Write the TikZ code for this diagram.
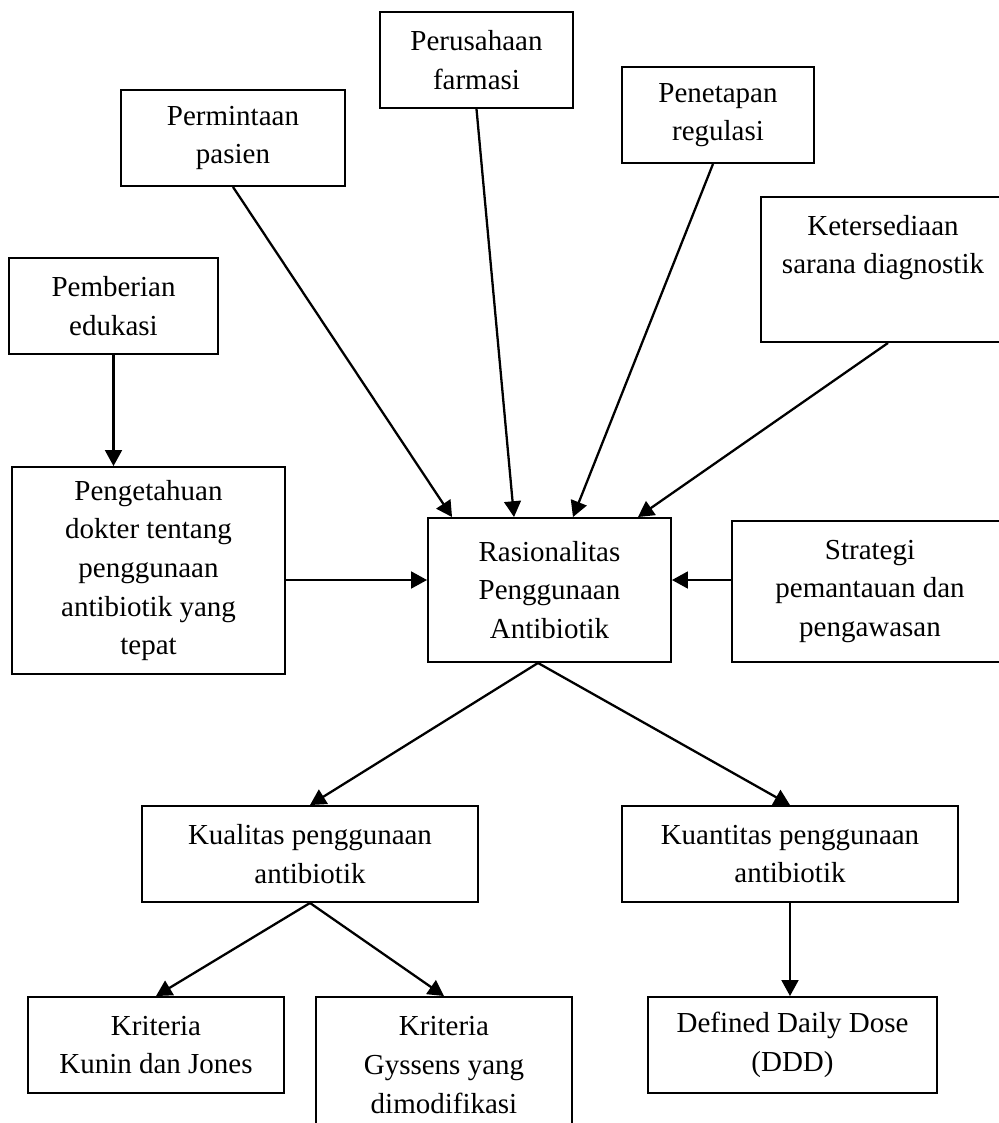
\documentclass[tikz,border=0pt]{standalone}
\usepackage{fontspec}
\setmainfont{Liberation Serif}
\usepackage{tikz}
\usetikzlibrary{arrows.meta,positioning}

\begin{document}
\begin{tikzpicture}[x=0.02cm, y=-0.02cm, ->, >={Triangle[length=9pt,width=9.5pt]}, line width=1.3pt]

    \tikzstyle{box}=[draw=black, rectangle, align=center, inner sep=2pt, minimum height=1.92cm, line width=1.1pt, font=\fontsize{16.5}{22}\selectfont]

    \useasboundingbox (0,0) rectangle (999,1123);
    \clip (0,0) rectangle (999,1123);

    \node[box, minimum width=3.86cm]                      (farmasi)     at (476.5,60)   {Perusahaan\\farmasi};
    \node[box, minimum width=4.48cm]                      (pasien)      at (233,138)    {Permintaan\\pasien};
    \node[box, minimum width=3.84cm]                      (regulasi)    at (718,115)    {Penetapan\\regulasi};
    \node[box, minimum width=4.88cm, minimum height=2.9cm] (diagnostik)  at (883,269.5)  {Ketersediaan\\sarana diagnostik\\\strut};
    \node[box, minimum width=4.18cm]                      (edukasi)     at (113.5,306)  {Pemberian\\edukasi};
    \node[box, minimum width=5.46cm, minimum height=4.14cm] (pengetahuan) at (148.5,570.5) {Pengetahuan\\dokter tentang\\penggunaan\\antibiotik yang\\tepat};
    \node[box, minimum width=4.86cm, minimum height=2.88cm] (rasional)    at (549.5,590)  {Rasionalitas\\Penggunaan\\Antibiotik};
    \node[box, minimum width=5.52cm, minimum height=2.82cm] (strategi)    at (870,591.5)  {Strategi\\pemantauan dan\\pengawasan};
    \node[box, minimum width=6.72cm]                      (kualitas)    at (310,854)    {Kualitas penggunaan\\antibiotik};
    \node[box, minimum width=6.72cm]                      (kuantitas)   at (790,854)    {Kuantitas penggunaan\\antibiotik};
    \node[box, minimum width=5.12cm]                      (kunin)       at (156,1045)   {Kriteria\\Kunin dan Jones};
    \node[box, minimum width=5.12cm, minimum height=2.72cm] (gyssens)     at (444,1065)   {Kriteria\\Gyssens yang\\dimodifikasi};
    \node[box, minimum width=5.78cm]                      (ddd)         at (792.5,1045) {Defined Daily Dose\\(DDD)};

    \path (pasien.south) edge ([xshift=0.5cm]rasional.north west)
          (farmasi.south) edge ([xshift=-0.71cm]rasional.north)
          ([xshift=-0.1cm]regulasi.south) edge ([xshift=0.47cm]rasional.north)
          ([xshift=0.1cm]diagnostik.south) edge ([xshift=-0.68cm]rasional.north east)
          (edukasi.south) edge (edukasi.south |- pengetahuan.north)
          ([yshift=-0.19cm]pengetahuan.east) edge ([yshift=-0.19cm]pengetahuan.east -| rasional.west)
          ([yshift=0.23cm]strategi.west) edge ([yshift=0.23cm]strategi.west -| rasional.east)
          ([xshift=-0.23cm]rasional.south) edge (kualitas.north)
          ([xshift=-0.23cm]rasional.south) edge (kuantitas.north)
          (kualitas.south) edge (kunin.north)
          (kualitas.south) edge (gyssens.north)
          (kuantitas.south) edge (kuantitas.south |- ddd.north)
    ;
\end{tikzpicture}
\end{document}
